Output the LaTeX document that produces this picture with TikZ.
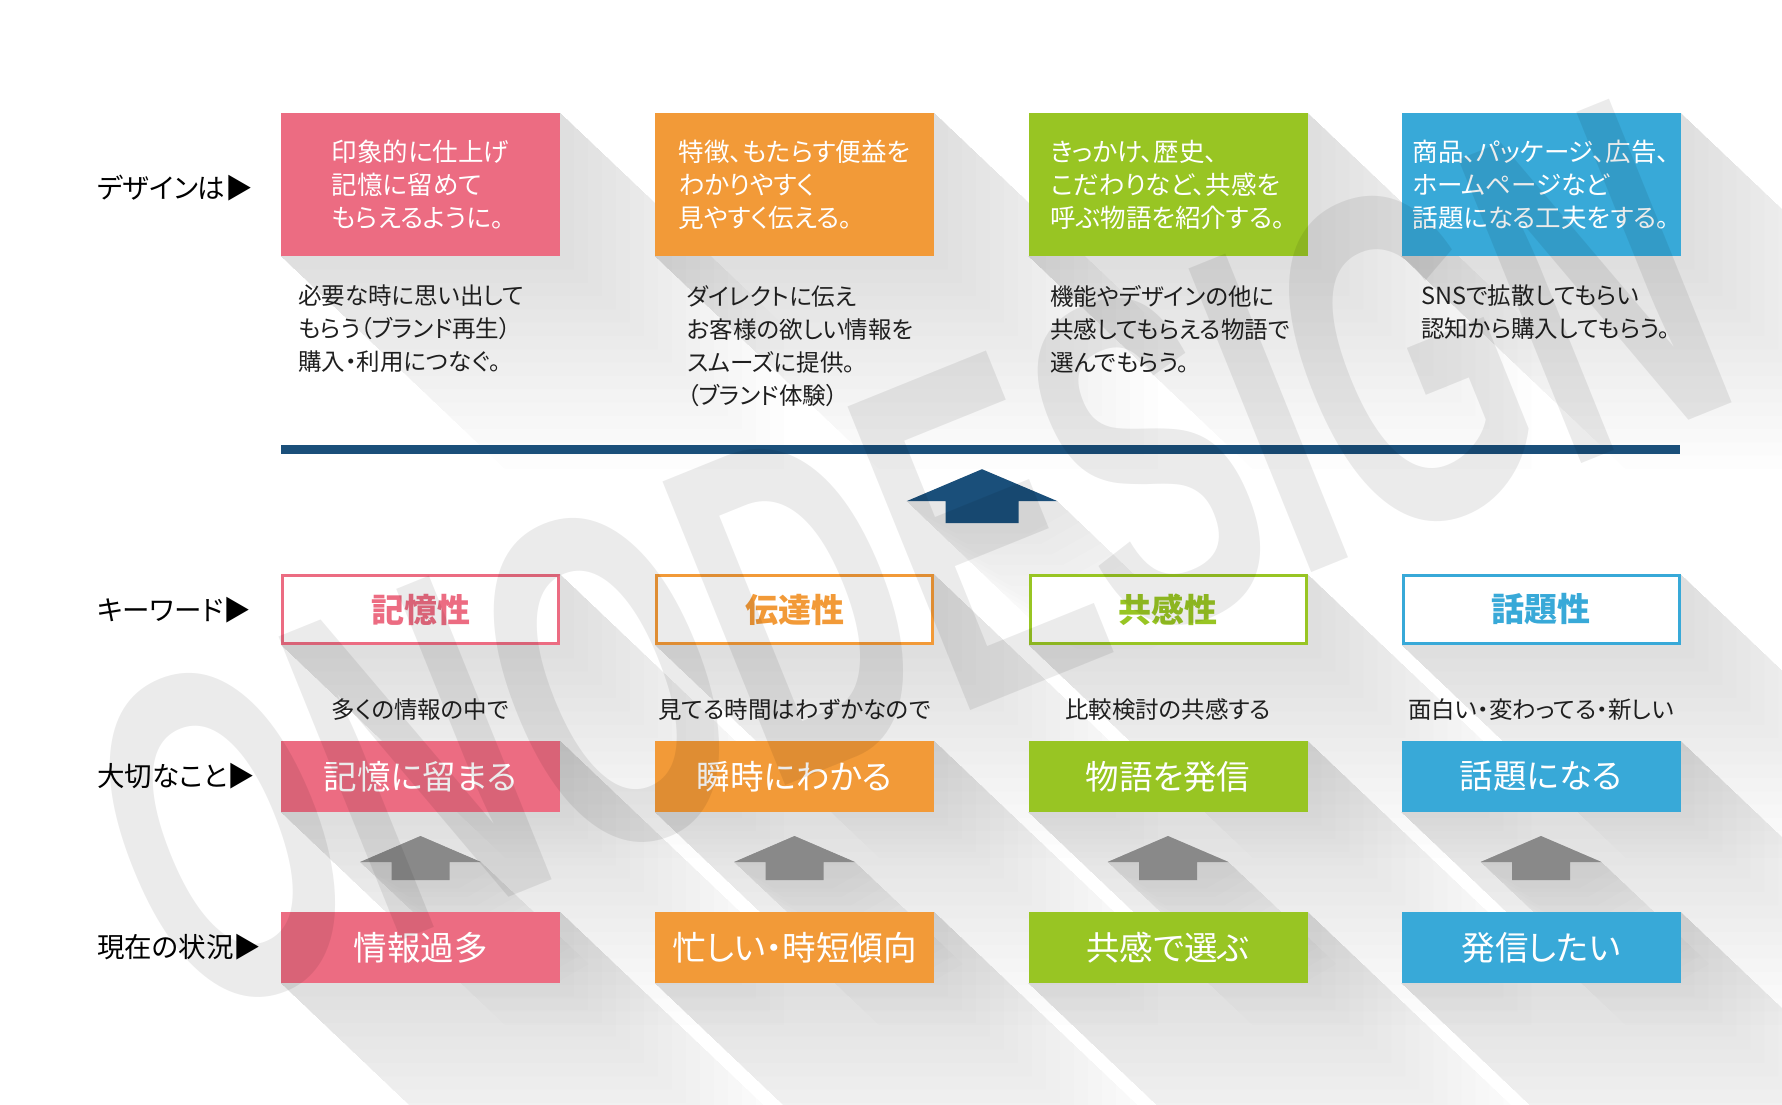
\documentclass[tikz,border=0pt]{standalone}
\usepackage{fontspec}
\setmainfont{Noto Sans CJK JP}[RawFeature=+palt]
\newfontfamily\wmfont{Liberation Sans}
\usetikzlibrary{calc}
\pgfdeclarelayer{bg}
\pgfsetlayers{bg,main}

\definecolor{pinkc}{HTML}{EC6C82}
\definecolor{orangec}{HTML}{F29A38}
\definecolor{greenc}{HTML}{98C523}
\definecolor{bluec}{HTML}{38A9D8}
\definecolor{navy}{HTML}{1A4F7A}
\definecolor{arrowgray}{HTML}{898989}
\definecolor{shadowc}{HTML}{2A3035}

\tikzset{
  colbox/.style={fill=#1, text=white, minimum width=279pt, inner sep=0pt},
  keybox/.style={draw=#1, line width=3pt, fill=white, text=#1, minimum width=276pt,
    minimum height=68pt, inner sep=0pt, font=\fontsize{33}{33}\selectfont\bfseries},
  toptxt/.style={align=left, font=\fontsize{25.5}{33}\selectfont},
  desctxt/.style={align=left, anchor=north west, inner sep=0pt, text=black!88,
    font=\fontsize{23.5}{33}\selectfont},
  subtxt/.style={inner sep=0pt, text=black!88, font=\fontsize{23.5}{23.5}\selectfont},
  bigtxt/.style={font=\fontsize{33.5}{33.5}\selectfont},
  lbl/.style={anchor=west, inner sep=0pt, font=\fontsize{27.5}{27.5}\selectfont},
  shadowfill/.style={fill=shadowc, fill opacity=0.0068}
}

% long shadow behind a box, built from stacked faint copies
\newcommand\longshadow[1]{%
  \foreach \k in {1,...,16}
    \fill[shadowfill] (#1.south west) -- (#1.north east) -- ++(14*\k,13.3*\k)
      -- ($(#1.south east)+(14*\k,13.3*\k)$) -- ($(#1.south west)+(14*\k,13.3*\k)$) -- cycle;}

\begin{document}
\begin{tikzpicture}[x=1pt,y=-1pt]
  \useasboundingbox (0,0) rectangle (1782,1105);

  % row labels
  \node[lbl] (lab1) at (97,188) {デザインは▶};
  \node[lbl] (lab2) at (97,610) {キーワード▶};
  \node[lbl] (lab3) at (97,776) {大切なこと▶};
  \node[lbl] (lab4) at (97,947) {現在の状況▶};

  % design boxes
  \foreach \i/\c/\x/\t in {
      1/pinkc/420.5/{印象的に仕上げ\\記憶に留めて\\もらえるように。},
      2/orangec/794.5/{特徴、もたらす便益を\\わかりやすく\\見やすく伝える。},
      3/greenc/1168/{きっかけ、歴史、\\こだわりなど、共感を\\呼ぶ物語を紹介する。},
      4/bluec/1541/{商品、パッケージ、広告、\\ホームページなど\\話題になる工夫をする。}}{
    \node[colbox=\c, minimum height=143pt, toptxt] (top\i) at (\x,184.5) {\t};
  }

  \foreach \i/\x/\t in {
      1/298/{必要な時に思い出して\\もらう（ブランド再生）\\購入・利用につなぐ。},
      2/687/{ダイレクトに伝え\\お客様の欲しい情報を\\スムーズに提供。\\（ブランド体験）},
      3/1050/{機能やデザインの他に\\共感してもらえる物語で\\選んでもらう。},
      4/1421/{SNSで拡散してもらい\\認知から購入してもらう。}}{
    \node[desctxt] (desc\i) at (\x,285) {\t};
  }

  \node[fill=navy, minimum width=1399pt, minimum height=9pt, inner sep=0pt] (bar) at (980.5,449.5) {};
  \coordinate (up) at ($(bar.south)+(1.5,47)$);
  \fill[navy, shift={(up)}] (0,-32) -- (75.5,0) -- (36.5,0) -- (36.5,22)
    -- (-36.5,22) -- (-36.5,0) -- (-75.5,0) -- cycle;

  % keywords and the rows below
  \foreach \i/\c/\x/\k/\s/\m/\b in {
      1/pinkc/420.5/記憶性/多くの情報の中で/記憶に留まる/情報過多,
      2/orangec/794.5/伝達性/見てる時間はわずかなので/瞬時にわかる/忙しい・時短傾向,
      3/greenc/1168/共感性/比較検討の共感する/物語を発信/共感で選ぶ,
      4/bluec/1541/話題性/面白い・変わってる・新しい/話題になる/発信したい}{
    \node[keybox=\c] (key\i) at (\x,609.5) {\k};
    \node[subtxt] (sub\i) at (\x,710) {\s};
    \node[colbox=\c, minimum height=71pt, bigtxt] (mid\i) at (\x,776.5) {\m};
    \node[colbox=\c, minimum height=71pt, bigtxt] (bot\i) at (\x,947.5) {\b};
    \coordinate (a\i) at ($(mid\i.south)!0.5!(bot\i.north)$);
    \fill[arrowgray, shift={(a\i)}] (0,-26) -- (60.5,0) -- (29,0) -- (29,18)
      -- (-29,18) -- (-29,0) -- (-60.5,0) -- cycle;
  }

  % shadows
  \begin{pgfonlayer}{bg}
    \fill[white] (0,0) rectangle (1782,1105);
    \foreach \n in {top1,top2,top3,top4,key1,key2,key3,key4,mid1,mid2,mid3,mid4,bot1,bot2,bot3,bot4}
      \longshadow{\n};
    \foreach \k in {1,...,12}{
      \fill[shadowfill, shift={(up)}] (0,-32) -- (75.5,0) -- ++(11*\k,10.5*\k)
        -- ++(-39,22) -- ++(-73,0) -- ++(-39,-22) -- (-75.5,0) -- cycle;
      \foreach \i in {1,2,3,4}
        \fill[shadowfill, shift={(a\i)}] (0,-26) -- (60.5,0) -- ++(9*\k,8.5*\k)
          -- ++(-31.5,18) -- ++(-58,0) -- ++(-31.5,-18) -- (-60.5,0) -- cycle;
    }
  \end{pgfonlayer}

  % watermark
  \begin{scope}[shift={(906,560)}, rotate=22]
    \node[text=black, text opacity=0.08, xscale=0.58, transform shape, inner sep=0pt,
      font=\wmfont\bfseries\fontsize{476}{476}\selectfont] (wm) at (0,0) {ONODESIGN};
  \end{scope}
\end{tikzpicture}
\end{document}
